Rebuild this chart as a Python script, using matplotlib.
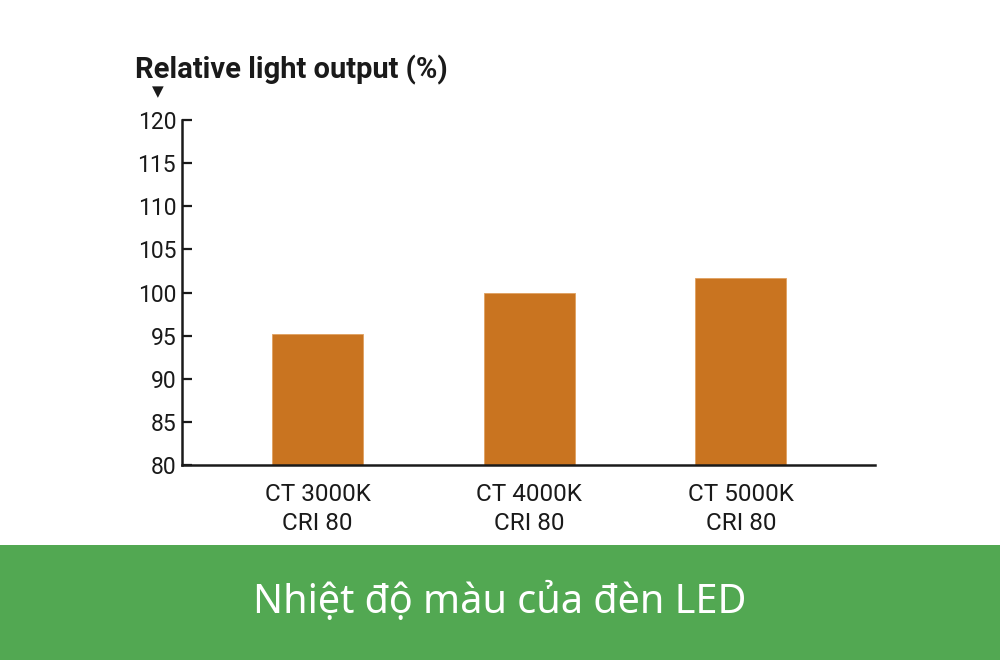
import matplotlib
matplotlib.use("Agg")
import matplotlib.pyplot as plt
from matplotlib.patches import Rectangle

categories = ["CT 3000K\nCRI 80", "CT 4000K\nCRI 80", "CT 5000K\nCRI 80"]
values = [95.2, 100.0, 101.7]
yticks = [80, 85, 90, 95, 100, 105, 110, 115, 120]
ylabel = "Relative light output (%)"
banner = "Nhiệt độ màu của đèn LED"

bar_color = "#c97420"
green = "#52a852"
dark = "#1a1a1a"

plt.rcParams['font.family'] = ['Roboto', 'DejaVu Sans']

fig = plt.figure(figsize=(10, 6.6), dpi=100)
ax = fig.add_axes([0.1817, 1 - 465 / 660, 0.875 - 0.1817, (465 - 120) / 660])

x = list(range(len(categories)))
ax.bar(x, values, width=0.43, color=bar_color, edgecolor="#e0a060", linewidth=0.6, zorder=2)

ax.set_xlim(-0.643, 2.634)
ax.set_ylim(80, 120)
ax.set_yticks(yticks)
ax.set_yticklabels([str(t) for t in yticks], fontsize=16.5, color=dark)
ax.set_xticks(x)
ax.set_xticklabels(categories, fontsize=17.5, color=dark, linespacing=1.32)
ax.tick_params(axis='y', direction='in', length=7.5, width=1.6, color=dark, pad=4)
ax.tick_params(axis='x', length=0, pad=13)
for s in ["top", "right"]:
    ax.spines[s].set_visible(False)
for s in ["left", "bottom"]:
    ax.spines[s].set_linewidth(1.8)
    ax.spines[s].set_color(dark)

fig.text(0.135, 1 - 78 / 660, ylabel, fontsize=21, fontweight='bold', color=dark,
         ha='left', va='baseline')
fig.text(0.158, 1 - 92 / 660, "▼", fontsize=11, color=dark, ha='center', va='center',
         family=['DejaVu Sans'])

fig.patches.append(Rectangle((0, 0), 1, 115 / 660, transform=fig.transFigure,
                             facecolor=green, edgecolor='none', zorder=0))
fig.text(0.5, 1 - 603 / 660, banner, fontsize=28.5, color='white', ha='center', va='center',
         family=['Noto Sans', 'DejaVu Sans'], fontweight='light')

fig.savefig("out.png", dpi=100, facecolor='white')
